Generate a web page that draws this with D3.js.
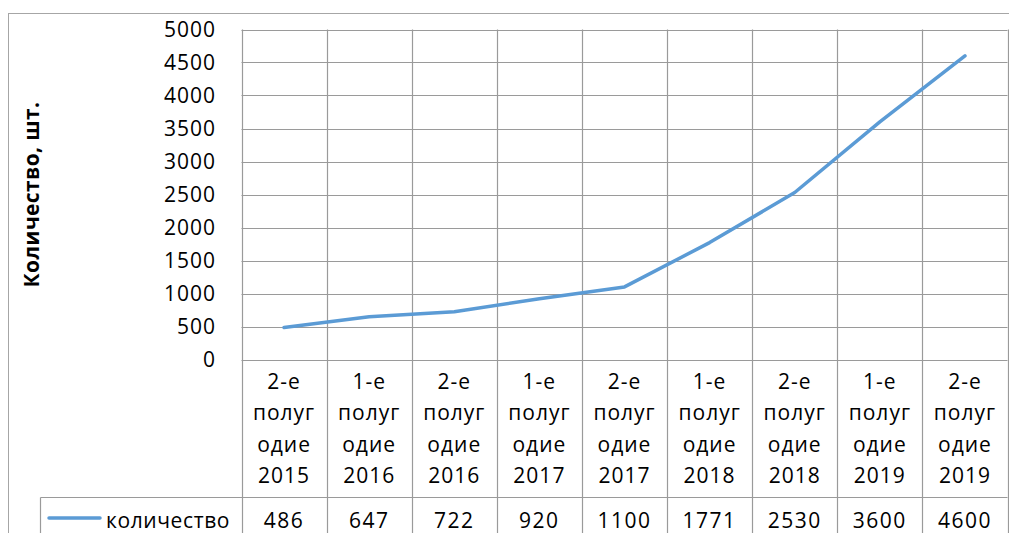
<!DOCTYPE html>
<html>
<head>
<meta charset="utf-8">
<script src="https://cdn.jsdelivr.net/npm/d3@7"></script>
<style>
  html, body { margin: 0; padding: 0; background: #fff; }
  svg { display: block; }
  text { font-family: "Open Sans", "Noto Sans", sans-serif; fill: #000; }
</style>
</head>
<body>
<svg id="chart" width="1009" height="533"></svg>
<script>
// Количество по полугодиям
const categories = [
  "2-е полугодие 2015", "1-е полугодие 2016", "2-е полугодие 2016",
  "1-е полугодие 2017", "2-е полугодие 2017", "1-е полугодие 2018",
  "2-е полугодие 2018", "1-е полугодие 2019", "2-е полугодие 2019"
];
const values = [486, 647, 722, 920, 1100, 1771, 2530, 3600, 4600];
const yTicks = [0, 500, 1000, 1500, 2000, 2500, 3000, 3500, 4000, 4500, 5000];
const seriesName = "количество";
const yTitle = "Количество, шт.";

const svg = d3.select("#chart");
const W = 1009, H = 533;

const plot = { left: 241.5, right: 1007.5, top: 29.5, bottom: 359.5 };
const catRowBottom = 497.5;
const dataRowBottom = 545;
const legendLeft = 40.5;
const gridColor = "#9a9a9a";
const lineColor = "#5b9bd5";

const x = d3.scaleBand().domain(categories).range([plot.left, plot.right]).padding(0);
const y = d3.scaleLinear().domain([0, 5000]).range([plot.bottom, plot.top]);

// outer chart frame
svg.append("rect")
  .attr("x", 8.5).attr("y", 13.5)
  .attr("width", W + 20).attr("height", H + 20)
  .attr("fill", "none").attr("stroke", "#a6a6a6").attr("stroke-width", 1);

// horizontal gridlines
svg.append("g").selectAll("line").data(yTicks).join("line")
  .attr("x1", plot.left).attr("x2", plot.right)
  .attr("y1", d => Math.round(y(d)) + 0.5).attr("y2", d => Math.round(y(d)) + 0.5)
  .attr("stroke", gridColor).attr("stroke-width", 1.2);

// vertical gridlines, continuing through the data table
const bounds = categories.map(c => x(c)).concat([plot.right]);
svg.append("g").selectAll("line").data(bounds).join("line")
  .attr("x1", d => Math.round(d) + 0.5).attr("x2", d => Math.round(d) + 0.5)
  .attr("y1", plot.top).attr("y2", dataRowBottom)
  .attr("stroke", gridColor).attr("stroke-width", 1.2);

// data table lines
svg.append("line")
  .attr("x1", legendLeft).attr("x2", plot.right)
  .attr("y1", catRowBottom).attr("y2", catRowBottom)
  .attr("stroke", gridColor).attr("stroke-width", 1.2);
svg.append("line")
  .attr("x1", legendLeft).attr("x2", legendLeft)
  .attr("y1", catRowBottom).attr("y2", dataRowBottom)
  .attr("stroke", gridColor).attr("stroke-width", 1.2);

// y axis labels
const yAxis = d3.axisLeft(y).tickValues(yTicks).tickSize(0).tickPadding(0).tickFormat(d3.format("d"));
const gy = svg.append("g").attr("transform", "translate(216,0)").call(yAxis);
gy.select(".domain").remove();
gy.selectAll("text")
  .attr("font-family", "'Open Sans', sans-serif")
  .attr("font-size", 21)
  .attr("letter-spacing", 1)
  .attr("dy", "0.35em")
  .attr("fill", "#000");

// y axis title
svg.append("text")
  .attr("transform", `translate(39, ${(plot.top + plot.bottom) / 2}) rotate(-90)`)
  .attr("text-anchor", "middle")
  .attr("font-size", 21)
  .attr("font-weight", "bold")
  .attr("letter-spacing", 0.4)
  .text(yTitle);

// category labels, wrapped into narrow lines
function wrapLabel(label) {
  const out = [];
  label.split(" ").forEach(w => {
    while (w.length > 5) { out.push(w.slice(0, 5)); w = w.slice(5); }
    out.push(w);
  });
  return out;
}
const lineBaselines = [389, 420, 452, 483];
const catG = svg.append("g");
categories.forEach(c => {
  const cx = x(c) + x.bandwidth() / 2;
  const t = catG.append("text")
    .attr("text-anchor", "middle")
    .attr("font-size", 21)
    .attr("letter-spacing", 1);
  wrapLabel(c).forEach((ln, i) => {
    t.append("tspan").attr("x", cx).attr("y", lineBaselines[i]).text(ln);
  });
});

// data row values
svg.append("g").selectAll("text").data(values).join("text")
  .attr("x", (d, i) => x(categories[i]) + x.bandwidth() / 2)
  .attr("y", 528)
  .attr("text-anchor", "middle")
  .attr("font-size", 21)
  .attr("letter-spacing", 1.5)
  .text(d => d);

// legend key in the data table
svg.append("line")
  .attr("x1", 49).attr("x2", 100)
  .attr("y1", 518).attr("y2", 518)
  .attr("stroke", lineColor).attr("stroke-width", 3.5).attr("stroke-linecap", "round");
svg.append("text")
  .attr("x", 106).attr("y", 528)
  .attr("font-size", 21)
  .attr("letter-spacing", 0.6)
  .text(seriesName);

// series line
const line = d3.line()
  .x((d, i) => x(categories[i]) + x.bandwidth() / 2)
  .y(d => y(d));
svg.append("path")
  .datum(values)
  .attr("d", line)
  .attr("fill", "none")
  .attr("stroke", lineColor)
  .attr("stroke-width", 3.5)
  .attr("stroke-linecap", "round")
  .attr("stroke-linejoin", "round");
</script>
</body>
</html>
